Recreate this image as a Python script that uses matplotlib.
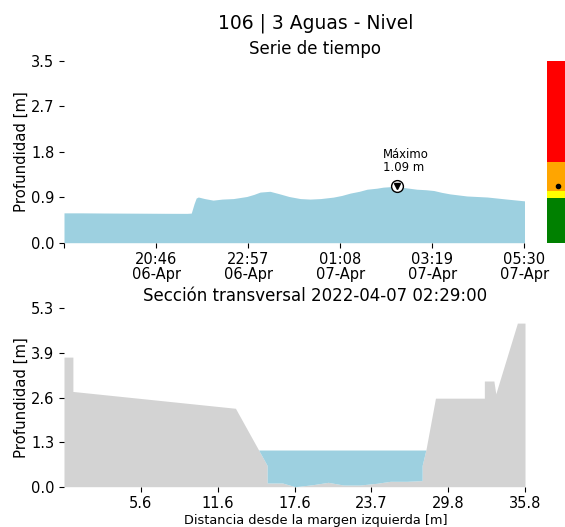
import matplotlib
matplotlib.use('Agg')
import matplotlib.pyplot as plt
import matplotlib.dates as mdates
import numpy as np
import pandas as pd

# serie de tiempo del nivel
horas = ['2022-04-06 18:35', '2022-04-06 19:00', '2022-04-06 19:30', '2022-04-06 20:00',
         '2022-04-06 20:30', '2022-04-06 21:00', '2022-04-06 21:30', '2022-04-06 21:36',
         '2022-04-06 21:40', '2022-04-06 21:43', '2022-04-06 21:46', '2022-04-06 21:55',
         '2022-04-06 22:07', '2022-04-06 22:20', '2022-04-06 22:36', '2022-04-06 22:55',
         '2022-04-06 23:05', '2022-04-06 23:14', '2022-04-06 23:28', '2022-04-06 23:42',
         '2022-04-06 23:55', '2022-04-07 00:11', '2022-04-07 00:25', '2022-04-07 00:40',
         '2022-04-07 00:58', '2022-04-07 01:10', '2022-04-07 01:22', '2022-04-07 01:35',
         '2022-04-07 01:46', '2022-04-07 02:00', '2022-04-07 02:09', '2022-04-07 02:20',
         '2022-04-07 02:29', '2022-04-07 02:40', '2022-04-07 02:57', '2022-04-07 03:10',
         '2022-04-07 03:21', '2022-04-07 03:32', '2022-04-07 03:44', '2022-04-07 04:08',
         '2022-04-07 04:37', '2022-04-07 05:05', '2022-04-07 05:30']
nivel = [0.575, 0.575, 0.572, 0.570, 0.568, 0.566, 0.565, 0.57,
         0.75, 0.86, 0.88, 0.85, 0.82, 0.84, 0.85, 0.89,
         0.93, 0.975, 0.99, 0.94, 0.89, 0.85, 0.84, 0.85,
         0.878, 0.91, 0.955, 0.99, 1.03, 1.05, 1.07, 1.08,
         1.09, 1.06, 1.03, 1.02, 1.005, 0.97, 0.94, 0.90,
         0.88, 0.84, 0.806]

etiquetas_tiempo = ['', '20:46\n06-Apr', '22:57\n06-Apr', '01:08\n07-Apr', '03:19\n07-Apr', '05:30\n07-Apr']
etiquetas_y_serie = ['0.0', '0.9', '1.8', '2.7', '3.5']

# semaforo de alertas
umbrales = [0.86, 1.0, 1.55, 3.5]
colores_semaforo = ['green', 'yellow', 'orange', 'red']

# seccion transversal
abscisa = [-0.5, 0.2, 0.2, 13.0, 15.5, 15.5, 16.7, 17.7, 19.1, 20.3, 21.5, 22.8, 24.1,
           25.2, 26.5, 27.7, 27.7, 28.0, 28.75, 32.6, 32.6, 33.35, 33.5, 35.2, 35.8]
cota = [3.85, 3.85, 2.83, 2.33, 0.63, 0.11, 0.11, 0.0, 0.06, 0.13, 0.05, 0.05, 0.10,
        0.16, 0.16, 0.18, 0.63, 1.10, 2.63, 2.63, 3.14, 3.14, 2.76, 4.86, 4.86]
nivel_seccion = 1.09
etiquetas_x_seccion = ['5.6', '11.6', '17.6', '23.7', '29.8', '35.8']
etiquetas_y_seccion = ['0.0', '1.3', '2.6', '3.9', '5.3']

azul = '#9dd0e0'
gris = '#d3d3d3'

W, H = 565, 527
fig = plt.figure(figsize=(W / 100, H / 100), dpi=100)

def px(x0, y0, x1, y1):
    return [x0 / W, 1 - y1 / H, (x1 - x0) / W, (y1 - y0) / H]

ax1 = fig.add_axes(px(64, 61, 524.5, 242.7))
ax2 = fig.add_axes(px(64, 308.3, 525, 486.7))
ax3 = fig.add_axes(px(547, 61, 568, 242.7))

t = mdates.date2num(pd.to_datetime(horas))
nivel = np.array(nivel)

# --- serie de tiempo
ax1.fill_between(t, 0, nivel, color=azul, lw=0)
imax = np.argmax(nivel)
ax1.plot(t[imax], nivel[imax], 'o', ms=8.5, mfc='white', mec='black', mew=1)
ax1.plot(t[imax], nivel[imax], 'v', ms=4.5, color='black')
ax1.annotate('Máximo\n%.2f m' % nivel[imax], (t[imax], nivel[imax]), xytext=(-10, 10.8),
             textcoords='offset points', ha='left', va='baseline', fontsize=8.4,
             linespacing=1.0)
ax1.set_xlim(t[0], t[-1])
ax1.set_ylim(0, 3.5)
ax1.set_xticks(np.linspace(t[0], t[-1], 6))
ax1.set_xticklabels(etiquetas_tiempo, linespacing=1.0)
ax1.set_yticks(np.linspace(0, 3.5, 5))
ax1.set_yticklabels(etiquetas_y_serie)

# --- semaforo
base = 0
for u, c in zip(umbrales, colores_semaforo):
    ax3.bar(0, u - base, bottom=base, width=1, color=c, lw=0)
    base = u
ax3.plot(0, nivel[imax], 'o', ms=3, color='black')
ax3.set_xlim(-0.5, 0.5)
ax3.set_ylim(0, 3.5)
ax3.axis('off')

# --- seccion transversal
ax2.fill_between(abscisa, 0, cota, color=gris, lw=0)
ax2.fill_between(abscisa, cota, nivel_seccion, where=np.array(cota) < nivel_seccion,
                 interpolate=True, color=azul, lw=0)
ax2.set_xlim(-0.5, 35.8)
ax2.set_ylim(0, 5.3)
ax2.set_xticks(np.linspace(-0.5, 35.8, 7)[1:])
ax2.set_xticklabels(etiquetas_x_seccion)
ax2.set_yticks(np.linspace(0, 5.3, 5))
ax2.set_yticklabels(etiquetas_y_seccion)

for ax in (ax1, ax2):
    for s in ax.spines.values():
        s.set_visible(False)
    ax.tick_params(labelsize=10.5)

fig.text(315.5 / W, 1 - 28.5 / H, '106 | 3 Aguas - Nivel', ha='center', va='baseline', fontsize=13.5)
fig.text(315 / W, 1 - 54 / H, 'Serie de tiempo', ha='center', va='baseline', fontsize=12)
fig.text(315 / W, 1 - 300.7 / H, 'Sección transversal 2022-04-07 02:29:00', ha='center',
         va='baseline', fontsize=12)
fig.text(315.5 / W, 1 - 524 / H, 'Distancia desde la margen izquierda [m]', ha='center',
         va='baseline', fontsize=9.3)
fig.text(21 / W, 1 - 152 / H, 'Profundidad [m]', rotation=90, ha='center', va='center', fontsize=10.7)
fig.text(21 / W, 1 - 398 / H, 'Profundidad [m]', rotation=90, ha='center', va='center', fontsize=10.7)

fig.savefig('out.png', dpi=100)
